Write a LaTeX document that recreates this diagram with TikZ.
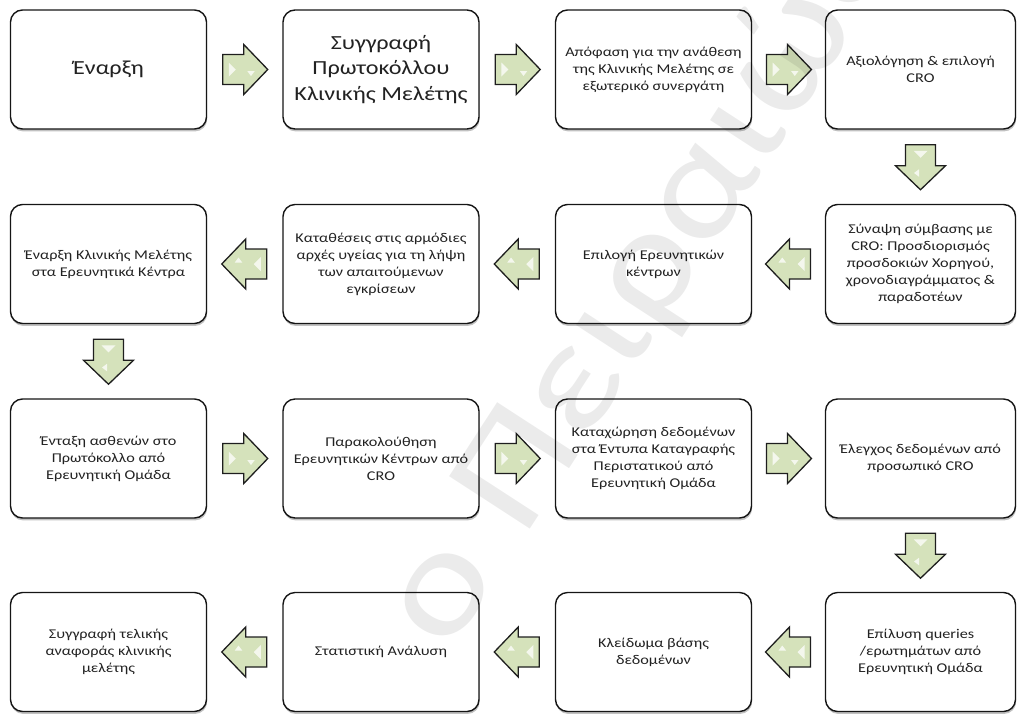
\documentclass[tikz,border=0pt]{standalone}
\usepackage{fontspec}
\setmainfont{Carlito}[FakeStretch=1.21]
\usetikzlibrary{calc,shadows}
\definecolor{arrfill}{HTML}{D5E2BB}
\definecolor{arrline}{HTML}{1E1E1E}
\definecolor{boxline}{HTML}{151515}
\definecolor{txt}{HTML}{222222}
\begin{document}
\begin{tikzpicture}[x=1pt,y=-1pt,
  box/.style={draw=boxline, line width=1.4pt, rounded corners=12pt, fill=white,
    minimum width=196pt, minimum height=119pt, inner sep=0pt, align=center,
    text=txt, font=\fontsize{13.4}{17}\selectfont,
    drop shadow={shadow xshift=0.6pt, shadow yshift=-2.4pt, opacity=0.35, fill=black!70}},
  bigbox/.style={box, font=\fontsize{20}{25.5}\selectfont},
  narrow/.style={minimum width=190pt},
  barrow/.pic={
    \filldraw[fill=arrfill, draw=arrline, line width=1.3pt, line join=miter]
      (-22pt,-15pt) -- (-1pt,-15pt) -- (-1pt,-25pt) -- (23pt,0pt) -- (-1pt,25pt)
      -- (-1pt,15pt) -- (-22pt,15pt) -- cycle;
    \fill[white, opacity=0.75] (-16pt,7pt) -- (-9pt,0pt) -- (-16pt,-7pt) -- cycle;
    \fill[white, opacity=0.75] (2.5pt,-1.5pt) -- (10pt,-1.5pt) -- (6.25pt,-6.5pt) -- cycle;
  }]
\useasboundingbox (0,0) rectangle (1017,713);

% row 1
\node[bigbox] (b1) at (108.5,69.5) {Έναρξη};
\node[bigbox] (b2) at (381,69.5) {Συγγραφή\\Πρωτοκόλλου\\Κλινικής Μελέτης};
\node[box] (b3) at (653.5,69.5) {Απόφαση για την ανάθεση\\της Κλινικής Μελέτης σε\\εξωτερικό συνεργάτη};
\node[box,narrow] (b4) at (920.5,69.5) {Αξιολόγηση \& επιλογή\\CRO};
% row 2
\node[box,narrow] (b5) at (920.5,264) {Σύναψη σύμβασης με\\CRO: Προσδιορισμός\\προσδοκιών Χορηγού,\\χρονοδιαγράμματος \&\\παραδοτέων};
\node[box] (b6) at (653.5,264) {Επιλογή Ερευνητικών\\κέντρων};
\node[box] (b7) at (381,264) {Καταθέσεις στις αρμόδιες\\αρχές υγείας για τη λήψη\\των απαιτούμενων\\εγκρίσεων};
\node[box] (b8) at (108.5,264) {Έναρξη Κλινικής Μελέτης\\στα Ερευνητικά Κέντρα};
% row 3
\node[box] (b9) at (108.5,458.5) {Ένταξη ασθενών στο\\Πρωτόκολλο από\\Ερευνητική Ομάδα};
\node[box] (b10) at (381,458.5) {Παρακολούθηση\\Ερευνητικών Κέντρων από\\CRO};
\node[box] (b11) at (653.5,458.5) {Καταχώρηση δεδομένων\\στα Έντυπα Καταγραφής\\Περιστατικού από\\Ερευνητική Ομάδα};
\node[box,narrow] (b12) at (920.5,458.5) {Έλεγχος δεδομένων από\\προσωπικό CRO};
% row 4
\node[box,narrow] (b13) at (920.5,652) {Επίλυση queries\\/ερωτημάτων από\\Ερευνητική Ομάδα};
\node[box] (b14) at (653.5,652) {Κλείδωμα βάσης\\δεδομένων};
\node[box] (b15) at (381,652) {Στατιστική Ανάλυση};
\node[box] (b16) at (108.5,652) {Συγγραφή τελικής\\αναφοράς κλινικής\\μελέτης};

% block arrows
\pic at ($(b1.east)!0.5!(b2.west)$) {barrow};
\pic at ($(b2.east)!0.5!(b3.west)$) {barrow};
\pic at ($(b3.east)!0.5!(b4.west)$) {barrow};
\pic[rotate=-90] at ($(b4.south)!0.5!(b5.north)$) {barrow};
\pic[rotate=180] at ($(b5.west)!0.5!(b6.east)$) {barrow};
\pic[rotate=180] at ($(b6.west)!0.5!(b7.east)$) {barrow};
\pic[rotate=180] at ($(b7.west)!0.5!(b8.east)$) {barrow};
\pic[rotate=-90] at ($(b8.south)!0.5!(b9.north)$) {barrow};
\pic at ($(b9.east)!0.5!(b10.west)$) {barrow};
\pic at ($(b10.east)!0.5!(b11.west)$) {barrow};
\pic at ($(b11.east)!0.5!(b12.west)$) {barrow};
\pic[rotate=-90] at ($(b12.south)!0.5!(b13.north)$) {barrow};
\pic[rotate=180] at ($(b13.west)!0.5!(b14.east)$) {barrow};
\pic[rotate=180] at ($(b14.west)!0.5!(b15.east)$) {barrow};
\pic[rotate=180] at ($(b15.west)!0.5!(b16.east)$) {barrow};

% watermark
\node[rotate=57, text=black, opacity=0.08, font=\fontsize{150}{150}\selectfont] (wm) at (640,285) {ο Πειραιώς};
\end{tikzpicture}
\end{document}
